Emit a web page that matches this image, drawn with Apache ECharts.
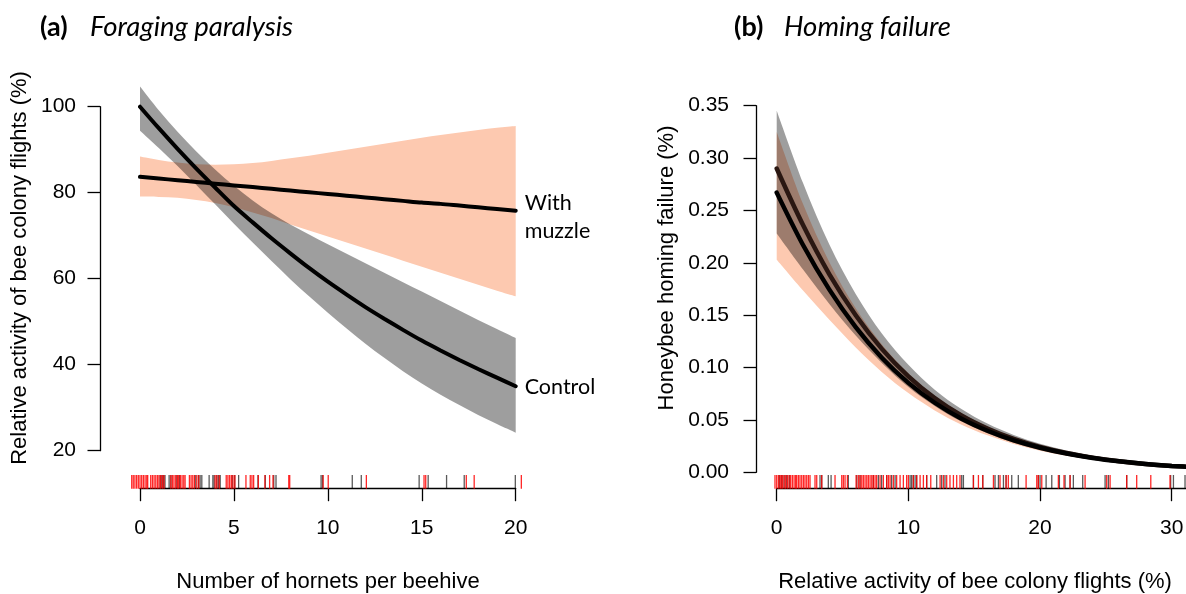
<!DOCTYPE html>
<html><head><meta charset="utf-8">
<script src="https://cdn.jsdelivr.net/npm/echarts/dist/echarts.min.js"></script>
<style>html,body{margin:0;padding:0;background:#fff}#c{width:1186px;height:594px}</style>
</head><body><div id="c"></div>
<script>
// ---------- Panel (a): Foraging paralysis ----------
const hornets = [0,1,2,3,4,5,6,7,8,9,10,11,12,13,14,15,16,17,18,19,20];
const controlMean = [100,95.0,90.2,85.6,81.2,76.9,73.1,69.4,65.9,62.5,59.3,56.3,53.4,50.7,48.1,45.6,43.3,41.1,39.0,37.0,35.0];
const controlLo   = [94.4,90.4,86.2,81.8,77.3,72.8,68.4,64.1,59.9,55.9,52.1,48.4,44.9,41.6,38.5,35.6,33.0,30.6,28.3,26.2,24.2];
const controlHi   = [104.7,99.2,94.2,89.6,85.4,81.6,78.2,75.2,72.6,70.3,68.0,65.8,63.6,61.4,59.2,57.0,54.8,52.6,50.4,48.3,46.2];
const muzzleMean  = [83.7,83.3,82.9,82.5,82.1,81.7,81.3,80.9,80.5,80.1,79.7,79.3,78.9,78.5,78.1,77.7,77.4,77.0,76.6,76.2,75.8];
const muzzleLo    = [79.1,79.0,78.8,78.3,77.6,76.6,75.4,74.1,72.6,71.2,69.8,68.4,67.0,65.6,64.2,62.8,61.4,60.0,58.6,57.2,55.9];
const muzzleHi    = [88.4,87.6,87.0,86.6,86.5,86.6,86.9,87.4,88.0,88.6,89.3,90.0,90.7,91.4,92.1,92.8,93.4,94.0,94.6,95.1,95.5];
const xTicksA = [0,5,10,15,20];
const yTicksA = [20,40,60,80,100];
const rugMuzzleA = [-0.44,-0.36,-0.27,-0.18,-0.09,0,0.09,0.18,0.27,0.36,0.41,0.57,0.66,0.75,0.84,0.93,1.01,1.10,1.19,1.28,
  1.64,1.73,1.81,1.90,1.99,2.06,2.15,2.24,2.33,2.40,2.63,2.72,2.81,2.90,3.02,3.13,4.00,4.09,4.22,
  4.59,4.68,4.77,4.86,4.95,5.05,5.64,5.87,5.96,6.05,6.30,6.65,6.90,7.08,7.92,7.97,9.75,10.02,12.05,15.12,15.21,17.37,17.79,20.30];
const rugControlA = [1.07,1.16,1.25,1.33,1.55,1.65,1.96,2.10,2.94,3.11,3.20,3.29,3.68,3.88,3.95,4.09,4.18,4.27,4.91,5.04,5.25,
  6.28,6.67,7.12,7.24,9.64,9.72,11.30,11.78,14.86,15.34,16.32,17.26,19.98];

// ---------- Panel (b): Homing failure ----------
const activity = [0,2,4,6,8,10,12,14,16,18,20,22,24,26,28,30,32];
const homingControl   = [0.290,0.236,0.189,0.150,0.1176,0.0916,0.0708,0.0544,0.0417,0.0318,0.0242,0.0184,0.0140,0.0106,0.0080,0.0061,0.0046];
const homingControlLo = [0.2279,0.1935,0.1607,0.1305,0.1041,0.0815,0.0634,0.0487,0.0373,0.0283,0.0214,0.0162,0.0123,0.0092,0.0069,0.0052,0.0039];
const homingControlHi = [0.3451,0.2761,0.2174,0.1703,0.1323,0.1026,0.0789,0.0607,0.0465,0.0356,0.0272,0.0208,0.0159,0.0121,0.0092,0.0070,0.0053];
const homingMuzzle    = [0.267,0.217,0.1744,0.1386,0.1092,0.0854,0.0664,0.0514,0.0397,0.0305,0.0234,0.0179,0.0137,0.0105,0.0080,0.0061,0.0047];
const homingMuzzleLo  = [0.2029,0.1736,0.1456,0.1192,0.0956,0.0756,0.0591,0.0457,0.0353,0.0270,0.0206,0.0157,0.0119,0.0091,0.0069,0.0052,0.0040];
const homingMuzzleHi  = [0.3249,0.2561,0.2006,0.1566,0.1218,0.0944,0.0730,0.0565,0.0437,0.0337,0.0260,0.0200,0.0153,0.0118,0.0090,0.0069,0.0054];
const xTicksB = [0,10,20,30,40];
const yTicksB = [0,0.05,0.10,0.15,0.20,0.25,0.30,0.35];
const rugMuzzleB = [-0.13,0,0.13,0.25,0.33,0.43,0.56,0.68,0.81,0.94,1.06,1.19,1.32,1.44,1.52,1.65,1.77,1.90,2.03,2.15,2.28,2.41,2.53,
  2.91,3.04,3.42,4.43,4.94,5.06,5.19,5.37,6.03,6.20,6.33,6.46,6.58,6.71,6.84,6.96,7.09,7.22,7.34,7.47,7.59,7.85,8.10,8.35,8.48,8.61,8.86,9.11,
  9.37,9.62,9.87,10.0,10.38,10.63,10.89,11.14,11.39,11.70,12.41,12.66,12.91,13.16,13.42,13.67,13.92,14.94,15.32,15.65,16.46,16.96,17.42,17.59,
  18.94,19.75,19.87,20.13,21.39,21.82,22.28,23.42,25.06,25.32,26.58,27.34,28.41,29.87];
const rugControlB = [0.20,0.38,0.56,0.76,0.96,3.29,3.42,3.92,4.13,5.44,6.08,6.33,7.34,7.72,7.97,8.35,8.73,8.99,10.13,10.25,10.38,10.51,10.63,
  11.39,12.15,12.53,12.78,14.05,14.18,14.94,15.65,16.58,16.84,17.22,17.42,17.85,18.35,19.87,20.0,20.46,20.89,21.47,21.90,22.28,22.53,23.24,
  24.94,25.19,26.58,29.92,30.13,31.01];

// ---------- styling ----------
const PINK = '#FDC9B0';
const GRAY = 'rgba(0,0,0,0.38)';
const RED_RUG = 'rgba(255,0,0,0.85)';
const BLACK_RUG = 'rgba(0,0,0,0.65)';
const SANS = 'Liberation Sans, Arial, sans-serif';
const CAL = 'Lato, Noto Sans, sans-serif';

function pairs(xs, ys){ return xs.map((x,i)=>[x, ys[i]]); }

// Catmull-Rom smoothed path through pixel points (rendering only)
function smoothPath(pts, moveFirst){
  let d = (moveFirst ? 'M' : 'L') + pts[0][0].toFixed(2) + ',' + pts[0][1].toFixed(2);
  for (let i = 0; i < pts.length - 1; i++){
    const p0 = pts[Math.max(i-1,0)], p1 = pts[i], p2 = pts[i+1], p3 = pts[Math.min(i+2, pts.length-1)];
    const c1x = p1[0] + (p2[0]-p0[0])/6, c1y = p1[1] + (p2[1]-p0[1])/6;
    const c2x = p2[0] - (p3[0]-p1[0])/6, c2y = p2[1] - (p3[1]-p1[1])/6;
    d += 'C' + c1x.toFixed(2)+','+c1y.toFixed(2)+' '+c2x.toFixed(2)+','+c2y.toFixed(2)+' '+p2[0].toFixed(2)+','+p2[1].toFixed(2);
  }
  return d;
}

function band(gi, xs, lo, hi, color, z){
  return {type:'custom', xAxisIndex:gi, yAxisIndex:gi, clip:false, silent:true, z:z,
    data:[[xs[0], lo[0]]], encode:{x:0, y:1},
    renderItem:function(params, api){
      const top = xs.map((x,i)=>api.coord([x, hi[i]]));
      const bot = xs.map((x,i)=>api.coord([x, lo[i]])).reverse();
      const d = smoothPath(top, true) + smoothPath(bot, false) + 'Z';
      return {type:'path', shape:{pathData:d}, style:{fill:color, stroke:null}};
    }};
}

function curve(gi, xs, ys, color, width, label, labelOffset){
  const s = {type:'line', xAxisIndex:gi, yAxisIndex:gi, data:pairs(xs, ys), symbol:'none', smooth:0.3,
    lineStyle:{color:color, width:width, cap:'round'}, clip:false, silent:true, z:5};
  if (label){
    s.endLabel = {show:true, formatter:label, distance:9, offset:labelOffset||[0,0], color:'#000',
      fontFamily:CAL, fontSize:21.5, lineHeight:28, align:'left', verticalAlign:'middle'};
  }
  return s;
}

function rug(gi, values, color, yMin, axisOffset){
  return {type:'custom', xAxisIndex:gi, yAxisIndex:gi, clip:false, silent:true, z:4,
    data: values.map(v=>[v, yMin]),
    encode:{x:0, y:1},
    renderItem:function(params, api){
      const p = api.coord([api.value(0), api.value(1)]);
      const yb = p[1] + axisOffset;
      return {type:'line', shape:{x1:p[0], y1:yb-13.7, x2:p[0], y2:yb},
        style:{stroke:color, lineWidth:1.3}};
    }};
}

function axisCommon(){
  return {
    axisLine:{show:true, onZero:false, lineStyle:{color:'#000', width:1.3}},
    axisTick:{show:true, inside:false, length:12.5, lineStyle:{color:'#000', width:1.3}},
    splitLine:{show:false},
    minorTick:{show:false}
  };
}

const chart = echarts.init(document.getElementById('c'), null, {renderer:'canvas'});
const option = {
  animation:false,
  backgroundColor:'#fff',
  grid:[
    {left:140, right:670.3, top:106.7, bottom:143.3, containLabel:false, outerBoundsMode:'none'},
    {left:776.7, right:-117.4, top:105.7, bottom:121.7, containLabel:false, outerBoundsMode:'none'}
  ],
  xAxis:[
    Object.assign(axisCommon(), {type:'value', gridIndex:0, position:'bottom', offset:38,
      min:xTicksA[0], max:xTicksA[xTicksA.length-1], interval:xTicksA[1]-xTicksA[0],
      axisLabel:{color:'#000', fontSize:21, fontFamily:SANS, margin:29}}),
    Object.assign(axisCommon(), {type:'value', gridIndex:1, position:'bottom', offset:16.4,
      min:xTicksB[0], max:xTicksB[xTicksB.length-1], interval:xTicksB[1]-xTicksB[0],
      axisLabel:{color:'#000', fontSize:21, fontFamily:SANS, margin:29}})
  ],
  yAxis:[
    Object.assign(axisCommon(), {type:'value', gridIndex:0, position:'left', offset:40,
      min:yTicksA[0], max:yTicksA[yTicksA.length-1], interval:yTicksA[1]-yTicksA[0],
      axisLabel:{color:'#000', fontSize:21, fontFamily:SANS, margin:24}}),
    Object.assign(axisCommon(), {type:'value', gridIndex:1, position:'left', offset:20.7,
      min:yTicksB[0], max:yTicksB[yTicksB.length-1], interval:yTicksB[1]-yTicksB[0],
      axisLabel:{color:'#000', fontSize:21, fontFamily:SANS, margin:27, formatter:v=>v.toFixed(2)}})
  ],
  series:[
    band(0, hornets, muzzleLo, muzzleHi, PINK, 1),
    band(0, hornets, controlLo, controlHi, GRAY, 2),
    curve(0, hornets, muzzleMean, '#000', 4, 'With\nmuzzle', [0,6]),
    curve(0, hornets, controlMean, '#000', 4, 'Control', [0,1]),
    rug(0, rugControlA, BLACK_RUG, yTicksA[0], 38),
    rug(0, rugMuzzleA, RED_RUG, yTicksA[0], 38),
    band(1, activity, homingMuzzleLo, homingMuzzleHi, PINK, 1),
    band(1, activity, homingControlLo, homingControlHi, GRAY, 2),
    curve(1, activity, homingControl, '#2a1712', 4.5),
    curve(1, activity, homingMuzzle, '#000', 4.5),
    rug(1, rugControlB, BLACK_RUG, yTicksB[0], 16.4),
    rug(1, rugMuzzleB, RED_RUG, yTicksB[0], 16.4)
  ],
  graphic:[
    {type:'text', x:40, y:27, style:{text:'(a)', font:'bold 27px '+CAL, fill:'#000', textVerticalAlign:'middle'}},
    {type:'text', x:90, y:27, style:{text:'Foraging paralysis', font:'italic 27.5px '+CAL, fill:'#000', textVerticalAlign:'middle'}},
    {type:'text', x:734, y:27, style:{text:'(b)', font:'bold 27px '+CAL, fill:'#000', textVerticalAlign:'middle'}},
    {type:'text', x:784, y:27, style:{text:'Homing failure', font:'italic 27.5px '+CAL, fill:'#000', textVerticalAlign:'middle'}},
    {type:'text', x:328, y:582, style:{text:'Number of hornets per beehive', font:'22px '+SANS, fill:'#000', textAlign:'center', textVerticalAlign:'middle'}},
    {type:'text', x:20, y:268, rotation:Math.PI/2, style:{text:'Relative activity of bee colony flights (%)', font:'22px '+SANS, fill:'#000', textAlign:'center', textVerticalAlign:'middle'}},
    {type:'text', x:975, y:582, style:{text:'Relative activity of bee colony flights (%)', font:'22px '+SANS, fill:'#000', textAlign:'center', textVerticalAlign:'middle'}},
    {type:'text', x:667, y:268, rotation:Math.PI/2, style:{text:'Honeybee homing failure (%)', font:'22px '+SANS, fill:'#000', textAlign:'center', textVerticalAlign:'middle'}}
  ]
};
chart.setOption(option);
</script>
</body></html>
